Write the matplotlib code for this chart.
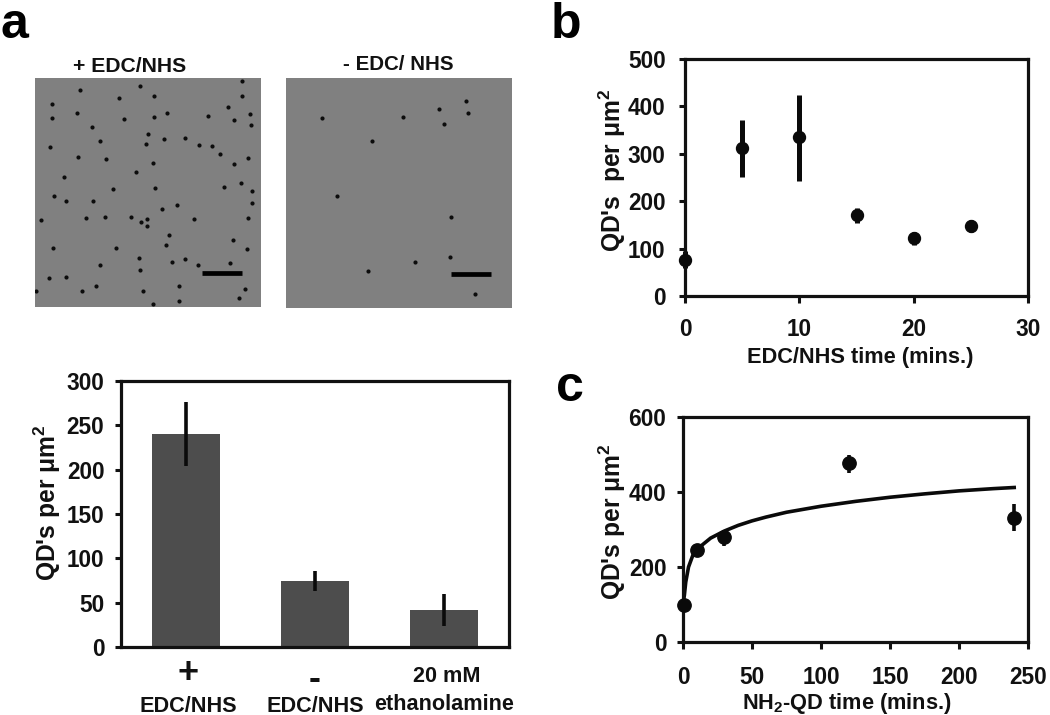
# -*- coding: utf-8 -*-
import matplotlib
matplotlib.use("Agg")
import matplotlib.pyplot as plt

plt.rcParams['font.family'] = ['Liberation Sans', 'DejaVu Sans']
plt.rcParams['font.weight'] = 'bold'
plt.rcParams['mathtext.fontset'] = 'custom'
plt.rcParams['mathtext.bf'] = 'Liberation Sans:bold'
plt.rcParams['mathtext.rm'] = 'Liberation Sans:bold'
plt.rcParams['mathtext.default'] = 'bf'

W, H = 1050, 715

# micrographs, dots
dots_plus_x = [724, 238, 418, 355, 460, 724, 156, 683, 229, 501, 622, 748, 156, 370, 462, 700, 752, 276, 444, 492,
               555, 298, 436, 595, 636, 148, 660, 233, 744, 316, 457, 700, 408, 191, 723, 671, 338, 463, 755, 161,
               197, 278, 754, 530, 484, 122, 257, 313, 392, 440, 423, 439, 581, 744, 505, 698, 496, 158, 348, 739,
               415, 555, 515, 688, 592, 299, 420, 146, 198, 288, 537, 735, 244, 429, 715, 535, 458, 108]
dots_plus_y = [243, 271, 257, 294, 288, 289, 313, 321, 340, 340, 348, 343, 355, 358, 352, 360, 375, 381, 402, 418,
               414, 424, 431, 436, 438, 440, 461, 470, 473, 477, 490, 492, 516, 530, 548, 560, 566, 564, 574, 587,
               601, 601, 608, 615, 625, 659, 652, 649, 650, 657, 665, 678, 655, 654, 705, 718, 734, 742, 743, 746,
               774, 775, 785, 789, 795, 794, 810, 832, 831, 858, 857, 866, 872, 872, 893, 901, 912, 872]
dots_minus_x = [965, 1209, 1316, 1399, 1405, 1332, 1114, 1010, 1352, 1351, 1244, 1104, 1425]
dots_minus_y = [355, 352, 328, 304, 338, 371, 422, 588, 652, 771, 785, 814, 883]

# bar panel
bar_labels_top = ['+', '-', '20 mM']
bar_labels_bottom = ['EDC/NHS', 'EDC/NHS', 'ethanolamine']
bar_values = [240, 75, 42]
bar_low = [204, 63, 24]
bar_high = [276, 86, 60]
bar_yticks = [0, 50, 100, 150, 200, 250, 300]

# panel b
b_time = [0, 5, 10, 15, 20, 25]
b_values = [77, 313, 336, 170, 122, 148]
b_low = [60, 252, 243, 155, 108, 135]
b_high = [95, 372, 425, 185, 135, 160]

# panel c
c_time = [0.5, 10, 30, 120, 240]
c_values = [100, 245, 280, 477, 330]
c_low = [85, 230, 255, 450, 295]
c_high = [115, 260, 300, 500, 368]
curve_time = [0, 1, 2, 4, 7, 10, 15, 20, 30, 40, 50, 60, 75, 100, 125, 150, 175, 200, 225, 240]
curve_values = [100, 125, 160, 200, 230, 247, 262, 277, 296, 311, 323, 333, 346, 362, 375, 386, 395, 403, 409, 412]


def box(x0, y0, x1, y1):
    # pixel box, y from the top of the picture
    return fig.add_axes([x0 / W, 1 - y1 / H, (x1 - x0) / W, (y1 - y0) / H])


def label(x, y, s, size=15.6, **kw):
    fig.text(x / W, 1 - y / H, s, fontsize=size, fontweight='bold', ha='center', va='center', color='#111111', **kw)


def style(ax, ypad=8, xpad=11):
    for sp in ax.spines.values():
        sp.set_linewidth(2.3)
        sp.set_color('#111111')
    ax.tick_params(width=2.2, labelsize=16.3, color='#111111', labelcolor='#111111')
    ax.tick_params(axis='y', length=4, pad=ypad)
    ax.tick_params(axis='x', length=5, pad=xpad)


def micrograph(pos, xs, ys, xlim, ylim, bar_x, bar_y):
    ax = box(*pos)
    ax.set_facecolor('#808080')
    ax.scatter(xs, ys, s=9, color='#0c0c0c', linewidths=0)
    ax.plot(bar_x, bar_y, color='black', lw=3.4, solid_capstyle='butt')
    ax.set_xlim(*xlim)
    ax.set_ylim(*ylim)
    ax.set_xticks([])
    ax.set_yticks([])
    for sp in ax.spines.values():
        sp.set_visible(False)


fig = plt.figure(figsize=(W / 100, H / 100), dpi=100)

micrograph((35, 78, 261, 307), dots_plus_x, dots_plus_y, (104, 782), (920, 234), [606, 724], [818, 818])
micrograph((286, 78, 512, 308), dots_minus_x, dots_minus_y, (857, 1536), (924, 234), [1353, 1472], [822, 822])
label(130, 66, '+ EDC/NHS', size=15.2)
label(398, 65, '- EDC/ NHS', size=14.8)

# a, bars
ax = box(121, 381, 509, 647)
pos = list(range(len(bar_values)))
ax.bar(pos, bar_values, width=0.526, color='#4d4d4d')
ax.vlines(pos, bar_low, bar_high, color='#0a0a0a', lw=2.6)
ax.set_xlim(-0.5, 2.5)
ax.set_ylim(0, 300)
ax.set_yticks(bar_yticks)
ax.set_xticks([])
style(ax)
label(47, 503, "QD's per μm$^{2}$", rotation=90, size=17.7)
label(188, 674, bar_labels_top[0], size=26)
label(315, 680, bar_labels_top[1], size=26)
label(447, 677, bar_labels_top[2])
label(188, 706, bar_labels_bottom[0])
label(315, 706, bar_labels_bottom[1])
label(444, 705, bar_labels_bottom[2])

# b
ax = box(685, 59, 1028, 296)
ax.vlines(b_time, b_low, b_high, color='#0a0a0a', lw=3.6, clip_on=False)
ax.plot(b_time, b_values, 'o', color='#0a0a0a', ms=8.6, clip_on=False, zorder=5)
ax.set_xlim(0, 30)
ax.set_ylim(0, 500)
ax.set_xticks([0, 10, 20, 30])
ax.set_yticks([0, 100, 200, 300, 400, 500])
style(ax, ypad=10, xpad=11)
label(612, 170, "QD's  per μm$^{2}$", rotation=90, size=17.7)
label(860, 357, 'EDC/NHS time (mins.)', size=15.7)

# c
ax = box(683, 417, 1028, 642)
ax.plot(curve_time, curve_values, color='#0a0a0a', lw=2.6, clip_on=False)
ax.vlines(c_time, c_low, c_high, color='#0a0a0a', lw=2.6, clip_on=False)
ax.plot(c_time, c_values, 'o', color='#0a0a0a', ms=9.6, clip_on=False, zorder=5)
ax.set_xlim(0, 250)
ax.set_ylim(0, 600)
ax.set_xticks([0, 50, 100, 150, 200, 250])
ax.set_yticks([0, 200, 400, 600])
style(ax, xpad=12)
label(612, 522, "QD's per μm$^{2}$", rotation=90, size=17.7)
label(847, 704, 'NH$_{2}$-QD time (mins.)', size=15.7)

# panel letters
fig.text(0 / W, 1 - 38 / H, 'a', fontsize=36, fontweight='bold', color='black', ha='left', va='baseline')
fig.text(551 / W, 1 - 38 / H, 'b', fontsize=36, fontweight='bold', color='black', ha='left', va='baseline')
fig.text(556 / W, 1 - 401 / H, 'c', fontsize=36, fontweight='bold', color='black', ha='left', va='baseline')

fig.savefig('out.png', dpi=100)
